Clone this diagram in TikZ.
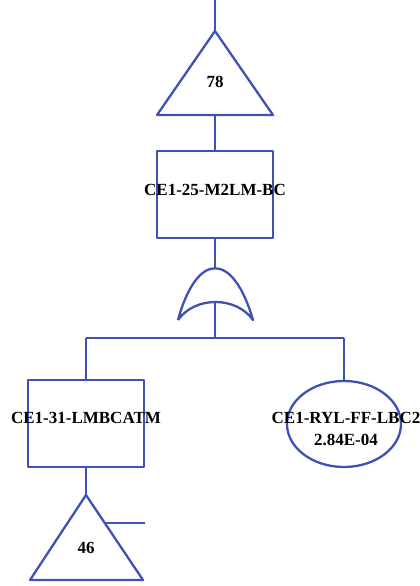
\documentclass[tikz,border=0pt]{standalone}
\usepackage{fontspec}
\setmainfont{Liberation Serif}
\usetikzlibrary{shapes.geometric}

\definecolor{ftblue}{RGB}{63,81,181}

\begin{document}
\begin{tikzpicture}[x=1pt,y=-1pt,line width=2.3pt,ftblue,line join=round,
                    txt/.style={text=black,font=\fontsize{17}{22}\selectfont\bfseries},
                    event box/.style={rectangle,draw,minimum width=116pt,minimum height=87pt,inner sep=0pt},
                    basic event/.style={ellipse,draw,minimum width=114pt,minimum height=86pt,inner sep=0pt}]
  \useasboundingbox (0,0) rectangle (420,586);

  % transfer in, top
  \coordinate (top) at (215,0);
  \coordinate (T78) at (215,31);
  \coordinate (T78l) at (157,115);
  \coordinate (T78r) at (273,115);
  \coordinate (T78b) at (215,115);
  \draw (T78) -- (T78r) -- (T78l) -- cycle;
  \node[txt] (n78) at (215,82) {78};

  % intermediate event
  \node[event box] (M2LM) at (215,194.5) {};
  \node[txt] (lM2LM) at (215,190) {CE1-25-M2LM-BC};

  % or gate
  \coordinate (orTop) at (215,268);
  \coordinate (orIn) at (215,302);
  \draw (178,320) .. controls (197,251) and (233,251) .. (253,320)
                  .. controls (236,296) and (195,296) .. (178,320);

  % inputs
  \coordinate (bus) at (215,338);
  \coordinate (busL) at (86,338);
  \coordinate (busR) at (344,338);
  \node[event box] (LMBC) at (86,423.5) {};
  \node[txt] (lLMBC) at (86,418) {CE1-31-LMBCATM};
  \node[basic event] (LBC2) at (344,424) {};
  \node[txt,align=center] (lLBC2) at (346,429) {CE1-RYL-FF-LBC2\\2.84E-04};

  % transfer out, bottom
  \coordinate (T46) at (86,495);
  \coordinate (T46l) at (30,580);
  \coordinate (T46r) at (143,580);
  \coordinate (T46s) at (105,523);
  \coordinate (T46e) at (145,523);
  \draw (T46) -- (T46r) -- (T46l) -- cycle;
  \node[txt] (n46) at (86,548) {46};

  \draw (top) -- (T78)
        (T78b) -- (M2LM.north)
        (M2LM.south) -- (orTop)
        (orIn) -- (bus)
        (busL) -- (busR)
        (busL) -- (LMBC.north)
        (busR) -- (LBC2.north)
        (LMBC.south) -- (T46)
        (T46s) -- (T46e);
\end{tikzpicture}
\end{document}
